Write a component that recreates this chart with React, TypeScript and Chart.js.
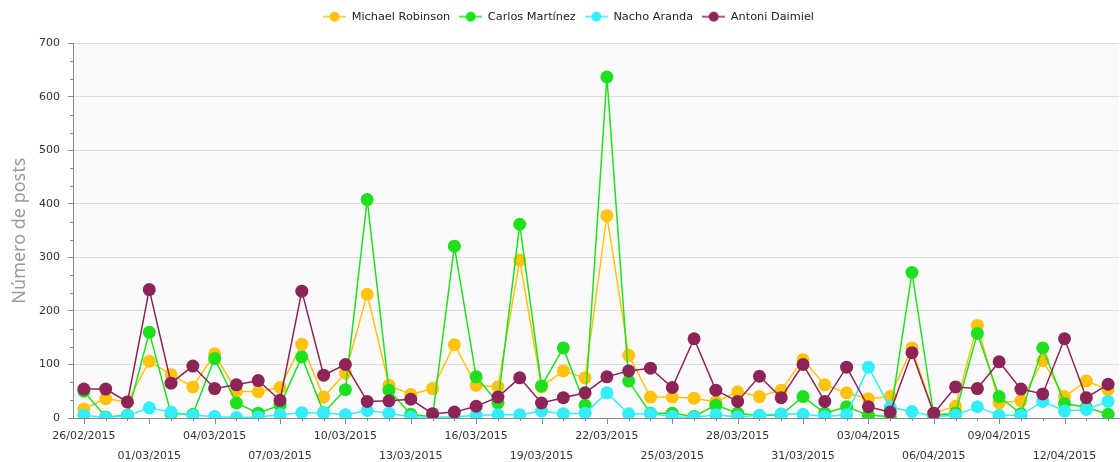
import React, { useEffect, useRef } from 'react';
import { Chart, registerables } from 'chart.js';

Chart.register(...registerables);

const dates = [
  '26/02/2015', '27/02/2015', '28/02/2015',
  '01/03/2015', '02/03/2015', '03/03/2015', '04/03/2015', '05/03/2015', '06/03/2015', '07/03/2015',
  '08/03/2015', '09/03/2015', '10/03/2015', '11/03/2015', '12/03/2015', '13/03/2015', '14/03/2015',
  '15/03/2015', '16/03/2015', '17/03/2015', '18/03/2015', '19/03/2015', '20/03/2015', '21/03/2015',
  '22/03/2015', '23/03/2015', '24/03/2015', '25/03/2015', '26/03/2015', '27/03/2015', '28/03/2015',
  '29/03/2015', '30/03/2015', '31/03/2015',
  '01/04/2015', '02/04/2015', '03/04/2015', '04/04/2015', '05/04/2015', '06/04/2015', '07/04/2015',
  '08/04/2015', '09/04/2015', '10/04/2015', '11/04/2015', '12/04/2015', '13/04/2015', '14/04/2015',
];

const michaelRobinson = [
  17, 36, 30, 106, 81, 58, 120, 50, 49, 57, 138, 39, 84, 231, 61, 44, 55, 137, 61, 58, 295, 58, 88, 75,
  378, 117, 39, 39, 37, 30, 49, 40, 52, 109, 62, 47, 36, 40, 131, 9, 22, 173, 28, 32, 107, 40, 69, 53,
];
const carlosMartinez = [
  50, 2, 5, 160, 8, 7, 111, 28, 9, 24, 114, 10, 53, 408, 52, 7, 2, 321, 77, 28, 362, 60, 131, 24,
  637, 69, 9, 9, 3, 24, 9, 4, 6, 40, 9, 21, 5, 3, 272, 5, 9, 158, 40, 8, 131, 27, 20, 7,
];
const nachoAranda = [
  5, 1, 4, 19, 11, 5, 3, 1, 2, 6, 10, 10, 6, 14, 9, 2, 2, 2, 5, 6, 6, 13, 8, 9,
  47, 8, 8, 3, 1, 6, 2, 5, 8, 7, 3, 6, 95, 20, 12, 3, 5, 21, 5, 5, 31, 13, 16, 31,
];
const antoniDaimiel = [
  54, 54, 30, 240, 65, 97, 55, 62, 70, 33, 237, 80, 100, 31, 32, 35, 8, 11, 22, 39, 75, 28, 38, 47,
  77, 88, 93, 57, 148, 52, 31, 78, 38, 100, 31, 95, 21, 11, 122, 9, 58, 55, 105, 54, 45, 148, 38, 63,
];

const seriesNames = ['Michael Robinson', 'Carlos Martínez', 'Nacho Aranda', 'Antoni Daimiel'];
const seriesColors = ['#FFC20F', '#1FE01F', '#33EEF8', '#8C2457'];
const yTicks = [0, 100, 200, 300, 400, 500, 600, 700];

function makeLegendIcon(color: string): HTMLCanvasElement {
  const c = document.createElement('canvas');
  c.width = 23;
  c.height = 12;
  const g = c.getContext('2d')!;
  g.strokeStyle = color;
  g.lineWidth = 1.5;
  g.beginPath();
  g.moveTo(0, 6);
  g.lineTo(23, 6);
  g.stroke();
  g.fillStyle = color;
  g.beginPath();
  g.arc(11.5, 6, 5, 0, Math.PI * 2);
  g.fill();
  return c;
}

const bgPlugin = {
  id: 'bgPlugin',
  beforeDraw(chart: any) {
    const { ctx, chartArea } = chart;
    ctx.save();
    ctx.fillStyle = '#fafafa';
    ctx.fillRect(chartArea.left, chartArea.top, chartArea.right - chartArea.left, chartArea.bottom - chartArea.top);
    ctx.restore();
  },
};

const tickPlugin = {
  id: 'tickPlugin',
  afterDraw(chart: any) {
    const { ctx, chartArea, scales } = chart;
    const x = scales.x;
    const y = scales.y;
    ctx.save();
    ctx.strokeStyle = '#888';
    ctx.lineWidth = 1;
    ctx.beginPath();
    dates.forEach((_, i) => {
      const px = Math.round(x.getPixelForValue(i)) + 0.5;
      const len = i % 3 === 0 ? 6 : 3;
      ctx.moveTo(px, chartArea.bottom);
      ctx.lineTo(px, chartArea.bottom + len);
    });
    for (let k = 0; k < yTicks.length - 1; k++) {
      for (let m = 1; m < 3; m++) {
        const v = yTicks[k] + ((yTicks[k + 1] - yTicks[k]) * m) / 3;
        const py = Math.round(y.getPixelForValue(v)) + 0.5;
        ctx.moveTo(chartArea.left - 3, py);
        ctx.lineTo(chartArea.left, py);
      }
    }
    ctx.stroke();
    ctx.restore();
  },
};

const legendMarginPlugin = {
  id: 'legendMargin',
  beforeInit(chart: any) {
    const origFit = chart.legend.fit;
    chart.legend.fit = function fit() {
      origFit.bind(chart.legend)();
      this.height += 11;
    };
  },
  afterLayout(chart: any) {
    if (chart.legend) {
      chart.legend.left += 9;
      chart.legend.right += 9;
    }
  },
};

export default function App() {
  const canvasRef = useRef<HTMLCanvasElement | null>(null);

  useEffect(() => {
    const canvas = canvasRef.current;
    if (!canvas) return;
    const allSeries = [michaelRobinson, carlosMartinez, nachoAranda, antoniDaimiel];
    const icons = seriesColors.map(makeLegendIcon);
    const chart = new Chart(canvas, {
      type: 'line',
      data: {
        labels: dates,
        datasets: allSeries.map((data, i) => ({
          label: seriesNames[i],
          data,
          borderColor: seriesColors[i],
          backgroundColor: seriesColors[i],
          pointBackgroundColor: seriesColors[i],
          pointBorderColor: seriesColors[i],
          borderWidth: 1.5,
          pointRadius: 6.5,
          pointBorderWidth: 0,
          tension: 0,
          fill: false,
          order: 3 - i,
        })),
      },
      plugins: [bgPlugin, tickPlugin, legendMarginPlugin],
      options: {
        animation: false,
        responsive: true,
        maintainAspectRatio: false,
        events: [],
        layout: { autoPadding: false, padding: { left: 0, right: 1, top: 2, bottom: 0 } },
        plugins: {
          tooltip: { enabled: false },
          legend: {
            position: 'top',
            align: 'center',
            labels: {
              color: '#222',
              font: { family: 'DejaVu Sans', size: 11.3 },
              usePointStyle: true,
              pointStyleWidth: 23,
              boxHeight: 10,
              padding: 9,
              generateLabels: () =>
                seriesNames.map((name, i) => ({
                  text: name,
                  datasetIndex: i,
                  pointStyle: icons[i],
                  fillStyle: seriesColors[i],
                  strokeStyle: seriesColors[i],
                  lineWidth: 0,
                  hidden: false,
                  fontColor: '#222',
                })),
            },
          },
        },
        scales: {
          x: {
            type: 'category',
            offset: true,
            grid: { display: false },
            border: { display: true, color: '#888', width: 1 },
            ticks: {
              autoSkip: false,
              maxRotation: 0,
              minRotation: 0,
              padding: 0,
              color: '#333',
              font: { family: 'DejaVu Sans', size: 11, lineHeight: 1.8 },
              callback: (_v: any, idx: number) => {
                if (idx % 3 !== 0) return '';
                return (idx / 3) % 2 === 0 ? dates[idx] : ['', dates[idx]];
              },
            },
            afterFit: (s: any) => {
              s.height = 44;
            },
          },
          y: {
            min: 0,
            max: 700,
            grid: {
              color: '#dedede',
              tickColor: '#888',
              tickLength: 5,
              drawTicks: true,
            },
            border: { display: true, color: '#888', width: 1 },
            ticks: {
              stepSize: 100,
              padding: 8,
              color: '#333',
              font: { family: 'DejaVu Sans', size: 11 },
            },
            title: {
              display: true,
              text: 'Número de posts',
              color: '#9a9a9a',
              font: { family: 'Noto Sans', size: 18 },
              padding: { top: 9, bottom: 0 },
            },
            afterFit: (s: any) => {
              s.width = 73;
            },
          },
        },
      },
    } as any);
    return () => chart.destroy();
  }, []);

  return (
    <div style={{ position: 'fixed', left: 0, top: 0, width: 1120, height: 462, background: '#fff' }}>
      <canvas ref={canvasRef} />
    </div>
  );
}
